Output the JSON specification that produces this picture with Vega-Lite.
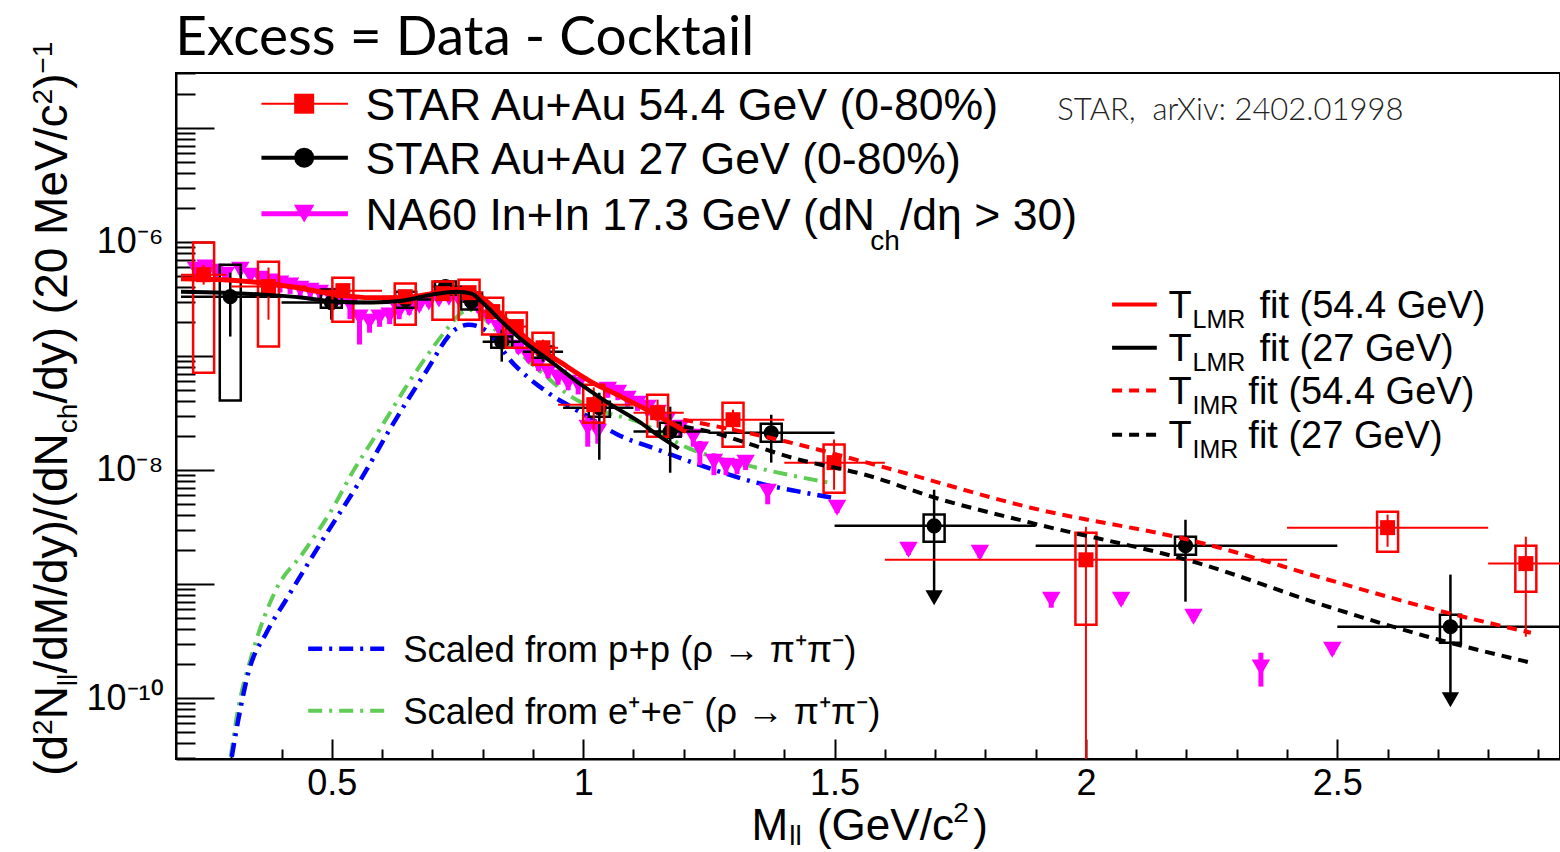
{
  "$schema": "https://vega.github.io/schema/vega-lite/v6.json",
  "width": 1384,
  "height": 686,
  "autosize": {"type": "none"},
  "padding": {"left": 176, "top": 73, "right": 0, "bottom": 93},
  "background": "white",
  "config": {
    "view": {"stroke": "black", "strokeWidth": 2},
    "font": "Liberation Sans",
    "text": {"font": "Liberation Sans", "color": "black"}
  },
  "datasets": {
    "star54": [
      {"m": 0.245, "y": 5.16e-7, "stat_lo": 4.22e-7, "stat_hi": 6.32e-7, "bin_lo": 0.2, "bin_hi": 0.29, "sys_lo": 7.14e-8, "sys_hi": 9.86e-7},
      {"m": 0.374, "y": 4.06e-7, "stat_lo": 2.08e-7, "stat_hi": 5.96e-7, "bin_lo": 0.3, "bin_hi": 0.45, "sys_lo": 1.21e-7, "sys_hi": 6.71e-7},
      {"m": 0.522, "y": 3.74e-7, "stat_lo": 3.31e-7, "stat_hi": 4.14e-7, "bin_lo": 0.45, "bin_hi": 0.6, "sys_lo": 2.0e-7, "sys_hi": 4.86e-7},
      {"m": 0.646, "y": 3.31e-7, "stat_lo": 2.94e-7, "stat_hi": 3.74e-7, "bin_lo": 0.6, "bin_hi": 0.7, "sys_lo": 1.88e-7, "sys_hi": 4.31e-7},
      {"m": 0.721, "y": 3.52e-7, "stat_lo": 3.12e-7, "stat_hi": 3.97e-7, "bin_lo": 0.7, "bin_hi": 0.74, "sys_lo": 2.08e-7, "sys_hi": 4.49e-7},
      {"m": 0.773, "y": 3.59e-7, "stat_lo": 3.17e-7, "stat_hi": 4.06e-7, "bin_lo": 0.74, "bin_hi": 0.8, "sys_lo": 2.08e-7, "sys_hi": 4.67e-7},
      {"m": 0.82, "y": 2.45e-7, "stat_lo": 2.08e-7, "stat_hi": 2.82e-7, "bin_lo": 0.8, "bin_hi": 0.84, "sys_lo": 1.54e-7, "sys_hi": 3.24e-7},
      {"m": 0.867, "y": 1.81e-7, "stat_lo": 1.54e-7, "stat_hi": 2.08e-7, "bin_lo": 0.84, "bin_hi": 0.89, "sys_lo": 1.18e-7, "sys_hi": 2.4e-7},
      {"m": 0.92, "y": 1.18e-7, "stat_lo": 9.86e-8, "stat_hi": 1.39e-7, "bin_lo": 0.89, "bin_hi": 0.95, "sys_lo": 8.39e-8, "sys_hi": 1.6e-7},
      {"m": 1.021, "y": 3.74e-8, "stat_lo": 2.26e-8, "stat_hi": 5.3e-8, "bin_lo": 0.95, "bin_hi": 1.1, "sys_lo": 2.6e-8, "sys_hi": 5.6e-8},
      {"m": 1.148, "y": 3.18e-8, "stat_lo": 2.35e-8, "stat_hi": 4.14e-8, "bin_lo": 1.1, "bin_hi": 1.2, "sys_lo": 1.96e-8, "sys_hi": 4.58e-8},
      {"m": 1.298, "y": 2.76e-8, "stat_lo": 2.17e-8, "stat_hi": 3.38e-8, "bin_lo": 1.2, "bin_hi": 1.4, "sys_lo": 1.6e-8, "sys_hi": 3.89e-8},
      {"m": 1.499, "y": 1.16e-8, "stat_lo": 6.71e-9, "stat_hi": 1.85e-8, "bin_lo": 1.4, "bin_hi": 1.6, "sys_lo": 6.32e-9, "sys_hi": 1.67e-8},
      {"m": 2.0, "y": 1.63e-9, "stat_lo": 1e-11, "stat_hi": 3.18e-9, "bin_lo": 1.6, "bin_hi": 2.4, "sys_lo": 4.4e-10, "sys_hi": 2.82e-9},
      {"m": 2.6, "y": 3.12e-9, "stat_lo": 2.12e-9, "stat_hi": 4.06e-9, "bin_lo": 2.4, "bin_hi": 2.8, "sys_lo": 1.92e-9, "sys_hi": 4.31e-9},
      {"m": 2.875, "y": 1.51e-9, "stat_lo": 3.45e-10, "stat_hi": 2.6e-9, "bin_lo": 2.8, "bin_hi": 3.0, "sys_lo": 8.55e-10, "sys_hi": 2.17e-9}
    ],
    "star27": [
      {"m": 0.298, "y": 3.31e-7, "stat_lo": 1.48e-7, "stat_hi": 5.38e-7, "bin_lo": 0.2, "bin_hi": 0.4, "sys_lo": 4.06e-8, "sys_hi": 6.32e-7, "limit": null},
      {"m": 0.499, "y": 2.94e-7, "stat_lo": 2.08e-7, "stat_hi": 3.66e-7, "bin_lo": 0.4, "bin_hi": 0.6, "sys_lo": 2.65e-7, "sys_hi": 3.82e-7, "limit": null},
      {"m": 0.647, "y": 3.12e-7, "stat_lo": 2.82e-7, "stat_hi": 3.38e-7, "bin_lo": 0.6, "bin_hi": 0.7, "sys_lo": 2.65e-7, "sys_hi": 3.66e-7, "limit": null},
      {"m": 0.726, "y": 4.06e-7, "stat_lo": 3.74e-7, "stat_hi": 4.31e-7, "bin_lo": 0.7, "bin_hi": 0.76, "sys_lo": 3.45e-7, "sys_hi": 4.49e-7, "limit": null},
      {"m": 0.778, "y": 2.99e-7, "stat_lo": 2.7e-7, "stat_hi": 3.31e-7, "bin_lo": 0.76, "bin_hi": 0.8, "sys_lo": 2.55e-7, "sys_hi": 3.59e-7, "limit": null},
      {"m": 0.838, "y": 1.33e-7, "stat_lo": 8.91e-8, "stat_hi": 1.7e-7, "bin_lo": 0.8, "bin_hi": 0.875, "sys_lo": 1.18e-7, "sys_hi": 1.48e-7, "limit": null},
      {"m": 0.92, "y": 1.09e-7, "stat_lo": 8.91e-8, "stat_hi": 1.31e-7, "bin_lo": 0.88, "bin_hi": 0.96, "sys_lo": 9.66e-8, "sys_hi": 1.21e-7, "limit": null},
      {"m": 1.032, "y": 3.52e-8, "stat_lo": 1.23e-8, "stat_hi": 4.76e-8, "bin_lo": 0.96, "bin_hi": 1.1, "sys_lo": 2.93e-8, "sys_hi": 3.97e-8, "limit": null},
      {"m": 1.173, "y": 2.17e-8, "stat_lo": 9.46e-9, "stat_hi": 3.59e-8, "bin_lo": 1.1, "bin_hi": 1.25, "sys_lo": 1.96e-8, "sys_hi": 2.6e-8, "limit": null},
      {"m": 1.374, "y": 2.12e-8, "stat_lo": 1.16e-8, "stat_hi": 3.05e-8, "bin_lo": 1.25, "bin_hi": 1.5, "sys_lo": 1.77e-8, "sys_hi": 2.55e-8, "limit": null},
      {"m": 1.698, "y": 3.24e-9, "stat_lo": 7.57e-10, "stat_hi": 6.71e-9, "bin_lo": 1.5, "bin_hi": 1.9, "sys_lo": 2.35e-9, "sys_hi": 4.06e-9, "limit": 7.57e-10},
      {"m": 2.198, "y": 2.17e-9, "stat_lo": 7.0e-10, "stat_hi": 3.66e-9, "bin_lo": 1.9, "bin_hi": 2.5, "sys_lo": 1.81e-9, "sys_hi": 2.6e-9, "limit": null},
      {"m": 2.725, "y": 4.22e-10, "stat_lo": 9.66e-11, "stat_hi": 1.21e-9, "bin_lo": 2.5, "bin_hi": 3.0, "sys_lo": 3.05e-10, "sys_hi": 5.38e-10, "limit": 9.66e-11}
    ],
    "na60": [
      {"m": 0.230, "y": 5.71e-7, "lo": 5.2e-7, "hi": 6.6e-7},
      {"m": 0.249, "y": 5.96e-7, "lo": 5.4e-7, "hi": 6.6e-7},
      {"m": 0.269, "y": 5.48e-7, "lo": 4.9e-7, "hi": 6.0e-7},
      {"m": 0.289, "y": 5.16e-7, "lo": 4.7e-7, "hi": 5.6e-7},
      {"m": 0.318, "y": 5.71e-7, "lo": 5.2e-7, "hi": 6.2e-7},
      {"m": 0.338, "y": 5.06e-7, "lo": 4.6e-7, "hi": 5.5e-7},
      {"m": 0.358, "y": 4.76e-7, "lo": 4.3e-7, "hi": 5.2e-7},
      {"m": 0.378, "y": 4.49e-7, "lo": 4.0e-7, "hi": 4.9e-7},
      {"m": 0.397, "y": 4.31e-7, "lo": 3.6e-7, "hi": 4.7e-7},
      {"m": 0.417, "y": 4.14e-7, "lo": 3.5e-7, "hi": 4.5e-7},
      {"m": 0.437, "y": 3.89e-7, "lo": 3.3e-7, "hi": 4.2e-7},
      {"m": 0.457, "y": 3.74e-7, "lo": 3.2e-7, "hi": 4.0e-7},
      {"m": 0.476, "y": 3.59e-7, "lo": 3.1e-7, "hi": 3.9e-7},
      {"m": 0.496, "y": 3.38e-7, "lo": 2.9e-7, "hi": 3.6e-7},
      {"m": 0.516, "y": 3.24e-7, "lo": 2.8e-7, "hi": 3.5e-7},
      {"m": 0.536, "y": 2.82e-7, "lo": 2.1e-7, "hi": 3.1e-7},
      {"m": 0.555, "y": 2.17e-7, "lo": 1.26e-7, "hi": 2.5e-7},
      {"m": 0.575, "y": 2.0e-7, "lo": 1.6e-7, "hi": 2.3e-7},
      {"m": 0.595, "y": 2.17e-7, "lo": 1.8e-7, "hi": 2.4e-7},
      {"m": 0.615, "y": 2.26e-7, "lo": 1.9e-7, "hi": 2.5e-7},
      {"m": 0.634, "y": 2.45e-7, "lo": 2.1e-7, "hi": 2.7e-7},
      {"m": 0.654, "y": 2.6e-7, "lo": 2.3e-7, "hi": 2.8e-7},
      {"m": 0.674, "y": 2.76e-7, "lo": 2.5e-7, "hi": 3.0e-7},
      {"m": 0.693, "y": 2.94e-7, "lo": 2.7e-7, "hi": 3.2e-7},
      {"m": 0.713, "y": 3.12e-7, "lo": 2.9e-7, "hi": 3.4e-7},
      {"m": 0.733, "y": 3.24e-7, "lo": 3.0e-7, "hi": 3.5e-7},
      {"m": 0.753, "y": 3.12e-7, "lo": 2.9e-7, "hi": 3.4e-7},
      {"m": 0.772, "y": 2.94e-7, "lo": 2.7e-7, "hi": 3.2e-7},
      {"m": 0.792, "y": 2.65e-7, "lo": 2.4e-7, "hi": 2.9e-7},
      {"m": 0.812, "y": 2.17e-7, "lo": 1.95e-7, "hi": 2.4e-7},
      {"m": 0.832, "y": 1.77e-7, "lo": 1.6e-7, "hi": 1.95e-7},
      {"m": 0.851, "y": 1.45e-7, "lo": 1.3e-7, "hi": 1.6e-7},
      {"m": 0.871, "y": 1.18e-7, "lo": 1.05e-7, "hi": 1.3e-7},
      {"m": 0.891, "y": 9.86e-8, "lo": 8.8e-8, "hi": 1.09e-7},
      {"m": 0.911, "y": 8.39e-8, "lo": 7.4e-8, "hi": 9.3e-8},
      {"m": 0.930, "y": 7.28e-8, "lo": 6.4e-8, "hi": 8.1e-8},
      {"m": 0.950, "y": 6.46e-8, "lo": 5.6e-8, "hi": 7.2e-8},
      {"m": 0.970, "y": 5.83e-8, "lo": 5.0e-8, "hi": 6.6e-8},
      {"m": 0.990, "y": 5.6e-8, "lo": 4.6e-8, "hi": 6.4e-8},
      {"m": 1.009, "y": 2.35e-8, "lo": 1.6e-8, "hi": 3.0e-8},
      {"m": 1.029, "y": 2.17e-8, "lo": 1.7e-8, "hi": 2.7e-8},
      {"m": 1.049, "y": 5.06e-8, "lo": 4.3e-8, "hi": 5.8e-8},
      {"m": 1.069, "y": 4.76e-8, "lo": 4.1e-8, "hi": 5.4e-8},
      {"m": 1.088, "y": 4.22e-8, "lo": 3.6e-8, "hi": 4.8e-8},
      {"m": 1.108, "y": 3.82e-8, "lo": 3.3e-8, "hi": 4.3e-8},
      {"m": 1.128, "y": 3.52e-8, "lo": 3.0e-8, "hi": 4.0e-8},
      {"m": 1.148, "y": 3.18e-8, "lo": 2.7e-8, "hi": 3.6e-8},
      {"m": 1.167, "y": 2.76e-8, "lo": 2.3e-8, "hi": 3.2e-8},
      {"m": 1.193, "y": 2.35e-8, "lo": 1.95e-8, "hi": 2.7e-8},
      {"m": 1.219, "y": 1.96e-8, "lo": 1.6e-8, "hi": 2.3e-8},
      {"m": 1.232, "y": 1.51e-8, "lo": 1.1e-8, "hi": 1.8e-8},
      {"m": 1.260, "y": 1.18e-8, "lo": 9.0e-9, "hi": 1.4e-8},
      {"m": 1.284, "y": 1.09e-8, "lo": 9.0e-9, "hi": 1.25e-8},
      {"m": 1.306, "y": 1.07e-8, "lo": 9.2e-9, "hi": 1.2e-8},
      {"m": 1.323, "y": 1.16e-8, "lo": 1.0e-8, "hi": 1.3e-8},
      {"m": 1.367, "y": 6.46e-9, "lo": 5.0e-9, "hi": 7.6e-9},
      {"m": 1.505, "y": 4.67e-9, "lo": 4.2e-9, "hi": 5.1e-9},
      {"m": 1.647, "y": 2.0e-9, "lo": 1.8e-9, "hi": 2.2e-9},
      {"m": 1.789, "y": 1.88e-9, "lo": 1.7e-9, "hi": 2.05e-9},
      {"m": 1.931, "y": 7.28e-10, "lo": 6.2e-10, "hi": 8.5e-10},
      {"m": 2.070, "y": 7.28e-10, "lo": 6.6e-10, "hi": 8.0e-10},
      {"m": 2.214, "y": 5.16e-10, "lo": 4.7e-10, "hi": 5.6e-10},
      {"m": 2.348, "y": 1.85e-10, "lo": 1.26e-10, "hi": 2.5e-10},
      {"m": 2.490, "y": 2.65e-10, "lo": 2.4e-10, "hi": 2.9e-10}
    ],
    "lmr54": [
      {"m": 0.2, "y": 4.76e-7}, {"m": 0.285, "y": 4.67e-7}, {"m": 0.374, "y": 4.31e-7}, {"m": 0.443, "y": 3.89e-7},
      {"m": 0.508, "y": 3.45e-7}, {"m": 0.581, "y": 3.24e-7}, {"m": 0.64, "y": 3.24e-7}, {"m": 0.699, "y": 3.52e-7},
      {"m": 0.739, "y": 3.82e-7}, {"m": 0.769, "y": 3.82e-7}, {"m": 0.788, "y": 3.52e-7}, {"m": 0.818, "y": 2.76e-7},
      {"m": 0.857, "y": 1.88e-7}, {"m": 0.897, "y": 1.31e-7}, {"m": 0.956, "y": 8.73e-8}, {"m": 1.015, "y": 5.96e-8},
      {"m": 1.075, "y": 4.4e-8}, {"m": 1.134, "y": 3.24e-8}, {"m": 1.205, "y": 2.17e-8}
    ],
    "lmr27": [
      {"m": 0.2, "y": 3.66e-7}, {"m": 0.285, "y": 3.59e-7}, {"m": 0.364, "y": 3.45e-7}, {"m": 0.443, "y": 3.24e-7},
      {"m": 0.508, "y": 2.99e-7}, {"m": 0.581, "y": 2.94e-7}, {"m": 0.64, "y": 3.05e-7}, {"m": 0.699, "y": 3.45e-7},
      {"m": 0.749, "y": 3.66e-7}, {"m": 0.778, "y": 3.52e-7}, {"m": 0.798, "y": 2.99e-7}, {"m": 0.838, "y": 2.0e-7},
      {"m": 0.877, "y": 1.39e-7}, {"m": 0.936, "y": 8.91e-8}, {"m": 0.996, "y": 5.6e-8}, {"m": 1.055, "y": 3.74e-8},
      {"m": 1.114, "y": 2.6e-8}, {"m": 1.15, "y": 2.0e-8}, {"m": 1.19, "y": 1.54e-8}
    ],
    "imr54": [
      {"m": 1.199, "y": 2.76e-8}, {"m": 1.396, "y": 1.81e-8}, {"m": 1.594, "y": 1.07e-8}, {"m": 1.89, "y": 4.67e-9},
      {"m": 2.22, "y": 2.35e-9}, {"m": 2.482, "y": 1.09e-9}, {"m": 2.68, "y": 6.19e-10}, {"m": 2.885, "y": 3.74e-10}
    ],
    "imr27": [
      {"m": 1.2, "y": 2.4e-8}, {"m": 1.232, "y": 2.26e-8}, {"m": 1.43, "y": 1.23e-8}, {"m": 1.568, "y": 8.91e-9},
      {"m": 1.693, "y": 5.83e-9}, {"m": 1.89, "y": 3.45e-9}, {"m": 2.22, "y": 1.54e-9}, {"m": 2.482, "y": 6.32e-10},
      {"m": 2.68, "y": 3.45e-10}, {"m": 2.885, "y": 2.04e-10}
    ],
    "rho_pp": [
      {"m": 0.301, "y": 3.05e-11}, {"m": 0.314, "y": 6.46e-11}, {"m": 0.334, "y": 1.67e-10}, {"m": 0.37, "y": 3.74e-10},
      {"m": 0.409, "y": 7.28e-10}, {"m": 0.482, "y": 2.45e-9}, {"m": 0.561, "y": 8.73e-9}, {"m": 0.615, "y": 2.26e-8},
      {"m": 0.686, "y": 7.14e-8}, {"m": 0.745, "y": 1.7e-7}, {"m": 0.772, "y": 1.88e-7}, {"m": 0.804, "y": 1.7e-7},
      {"m": 0.863, "y": 8.39e-8}, {"m": 0.93, "y": 4.76e-8}, {"m": 0.996, "y": 3.18e-8}, {"m": 1.069, "y": 2.04e-8},
      {"m": 1.148, "y": 1.51e-8}, {"m": 1.258, "y": 1.01e-8}, {"m": 1.345, "y": 7.74e-9}, {"m": 1.43, "y": 6.46e-9},
      {"m": 1.495, "y": 5.71e-9}
    ],
    "rho_ee": [
      {"m": 0.299, "y": 3.05e-11}, {"m": 0.31, "y": 6.46e-11}, {"m": 0.344, "y": 2.65e-10}, {"m": 0.389, "y": 8.91e-10},
      {"m": 0.443, "y": 1.88e-9}, {"m": 0.508, "y": 5.16e-9}, {"m": 0.536, "y": 8.73e-9}, {"m": 0.595, "y": 2.26e-8},
      {"m": 0.666, "y": 7.14e-8}, {"m": 0.733, "y": 1.81e-7}, {"m": 0.753, "y": 2.3e-7}, {"m": 0.772, "y": 2.55e-7},
      {"m": 0.798, "y": 2.21e-7}, {"m": 0.844, "y": 1.39e-7}, {"m": 0.911, "y": 7.59e-8}, {"m": 0.976, "y": 4.4e-8},
      {"m": 1.029, "y": 3.38e-8}, {"m": 1.114, "y": 2.6e-8}, {"m": 1.207, "y": 1.57e-8}, {"m": 1.337, "y": 1.07e-8},
      {"m": 1.489, "y": 7.74e-9}
    ]
  },
  "layer": [
    {
      "data": {"name": "star54"},
      "mark": {"type": "point", "opacity": 0},
      "encoding": {
        "x": {"field": "m", "type": "quantitative",
          "scale": {"domain": [0.2, 2.933], "nice": false, "zero": false},
          "axis": {"orient": "bottom", "values": [0.5, 1, 1.5, 2, 2.5], "labelExpr": "datum.value + ''",
            "tickSize": -20, "tickWidth": 2, "tickColor": "black", "domain": true, "domainColor": "black", "domainWidth": 2,
            "labelFontSize": 36, "labelFont": "Liberation Sans", "labelColor": "black", "labelPadding": 27,
            "labelOverlap": false, "labelFlush": false, "grid": false, "title": null}},
        "y": {"field": "y", "type": "quantitative",
          "scale": {"type": "log", "domain": [2.92e-11, 3.03e-5], "nice": false},
          "axis": {"orient": "left", "values": [1e-10, 1e-9, 1e-8, 1e-7, 1e-6, 1e-5],
            "labelExpr": "round(log(datum.value)/LN10) == -6 ? '10⁻⁶' : round(log(datum.value)/LN10) == -8 ? '10⁻⁸' : round(log(datum.value)/LN10) == -10 ? '10⁻¹⁰' : ''",
            "tickSize": -38, "tickWidth": 2, "tickColor": "black", "domain": true, "domainColor": "black", "domainWidth": 2,
            "labelFontSize": 36, "labelFont": "Liberation Sans", "labelColor": "black", "labelPadding": 51,
            "labelOverlap": false, "labelFlush": false, "grid": false, "title": null}}
      }
    },
    {
      "data": {"name": "star54"},
      "mark": {"type": "point", "opacity": 0},
      "encoding": {
        "x": {"field": "m", "type": "quantitative",
          "axis": {"orient": "bottom", "values": [0.3, 0.4, 0.6, 0.7, 0.8, 0.9, 1.1, 1.2, 1.3, 1.4, 1.6, 1.7, 1.8, 1.9, 2.1, 2.2, 2.3, 2.4, 2.6, 2.7, 2.8, 2.9],
            "labels": false, "domain": false, "tickSize": -10, "tickWidth": 2, "tickColor": "black", "grid": false, "title": null}},
        "y": {"field": "y", "type": "quantitative",
          "axis": {"orient": "left",
            "values": [3e-11, 4e-11, 5e-11, 6e-11, 7e-11, 8e-11, 9e-11, 2e-10, 3e-10, 4e-10, 5e-10, 6e-10, 7e-10, 8e-10, 9e-10, 2e-9, 3e-9, 4e-9, 5e-9, 6e-9, 7e-9, 8e-9, 9e-9, 2e-8, 3e-8, 4e-8, 5e-8, 6e-8, 7e-8, 8e-8, 9e-8, 2e-7, 3e-7, 4e-7, 5e-7, 6e-7, 7e-7, 8e-7, 9e-7, 2e-6, 3e-6, 4e-6, 5e-6, 6e-6, 7e-6, 8e-6, 9e-6, 2e-5, 3e-5],
            "labels": false, "domain": false, "tickSize": -19, "tickWidth": 2, "tickColor": "black", "grid": false, "title": null}}
      }
    },
    {
      "data": {"name": "rho_ee"},
      "mark": {"type": "line", "color": "#5fcc55", "strokeWidth": 4, "strokeDash": [14, 7, 3, 7], "interpolate": "monotone", "clip": true},
      "encoding": {"x": {"field": "m", "type": "quantitative", "axis": null}, "y": {"field": "y", "type": "quantitative", "axis": null}}
    },
    {
      "data": {"name": "rho_pp"},
      "mark": {"type": "line", "color": "#0000ff", "strokeWidth": 4.5, "strokeDash": [14, 7, 3, 7], "interpolate": "monotone", "clip": true},
      "encoding": {"x": {"field": "m", "type": "quantitative", "axis": null}, "y": {"field": "y", "type": "quantitative", "axis": null}}
    },
    {
      "data": {"name": "na60"},
      "mark": {"type": "rule", "color": "#ff00ff", "strokeWidth": 5, "clip": true},
      "encoding": {"x": {"field": "m", "type": "quantitative", "axis": null}, "y": {"field": "lo", "type": "quantitative", "axis": null}, "y2": {"field": "hi"}}
    },
    {
      "data": {"name": "na60"},
      "mark": {"type": "point", "shape": "triangle-down", "filled": true, "color": "#ff00ff", "size": 340, "opacity": 1, "clip": true},
      "encoding": {"x": {"field": "m", "type": "quantitative", "axis": null}, "y": {"field": "y", "type": "quantitative", "axis": null}}
    },
    {
      "data": {"name": "star27"},
      "mark": {"type": "bar", "width": 21, "fill": "transparent", "stroke": "black", "strokeWidth": 2.5, "clip": true},
      "encoding": {"x": {"field": "m", "type": "quantitative", "axis": null}, "y": {"field": "sys_lo", "type": "quantitative", "axis": null}, "y2": {"field": "sys_hi"}}
    },
    {
      "data": {"name": "star27"},
      "mark": {"type": "rule", "color": "black", "strokeWidth": 2.5, "clip": true},
      "encoding": {"x": {"field": "bin_lo", "type": "quantitative", "axis": null}, "x2": {"field": "bin_hi"}, "y": {"field": "y", "type": "quantitative", "axis": null}}
    },
    {
      "data": {"name": "star27"},
      "mark": {"type": "rule", "color": "black", "strokeWidth": 2.5, "clip": true},
      "encoding": {"x": {"field": "m", "type": "quantitative", "axis": null}, "y": {"field": "stat_lo", "type": "quantitative", "axis": null}, "y2": {"field": "stat_hi"}}
    },
    {
      "data": {"name": "star27"},
      "transform": [{"filter": "datum.limit != null"}],
      "mark": {"type": "point", "shape": "triangle-down", "filled": true, "color": "black", "size": 300, "opacity": 1, "clip": true},
      "encoding": {"x": {"field": "m", "type": "quantitative", "axis": null}, "y": {"field": "limit", "type": "quantitative", "axis": null}}
    },
    {
      "data": {"name": "star27"},
      "mark": {"type": "point", "shape": "circle", "filled": true, "color": "black", "size": 230, "opacity": 1, "clip": true},
      "encoding": {"x": {"field": "m", "type": "quantitative", "axis": null}, "y": {"field": "y", "type": "quantitative", "axis": null}}
    },
    {
      "data": {"name": "star54"},
      "mark": {"type": "bar", "width": 21, "fill": "transparent", "stroke": "#ff0000", "strokeWidth": 2.5, "clip": true},
      "encoding": {"x": {"field": "m", "type": "quantitative", "axis": null}, "y": {"field": "sys_lo", "type": "quantitative", "axis": null}, "y2": {"field": "sys_hi"}}
    },
    {
      "data": {"name": "star54"},
      "mark": {"type": "rule", "color": "#ff0000", "strokeWidth": 2, "clip": true},
      "encoding": {"x": {"field": "bin_lo", "type": "quantitative", "axis": null}, "x2": {"field": "bin_hi"}, "y": {"field": "y", "type": "quantitative", "axis": null}}
    },
    {
      "data": {"name": "star54"},
      "mark": {"type": "rule", "color": "#ff0000", "strokeWidth": 2, "clip": true},
      "encoding": {"x": {"field": "m", "type": "quantitative", "axis": null}, "y": {"field": "stat_lo", "type": "quantitative", "axis": null}, "y2": {"field": "stat_hi"}}
    },
    {
      "data": {"name": "star54"},
      "mark": {"type": "point", "shape": "square", "filled": true, "color": "#ff0000", "size": 225, "opacity": 1, "clip": true},
      "encoding": {"x": {"field": "m", "type": "quantitative", "axis": null}, "y": {"field": "y", "type": "quantitative", "axis": null}}
    },
    {
      "data": {"name": "lmr54"},
      "mark": {"type": "line", "color": "#ff0000", "strokeWidth": 5, "interpolate": "monotone", "clip": true},
      "encoding": {"x": {"field": "m", "type": "quantitative", "axis": null}, "y": {"field": "y", "type": "quantitative", "axis": null}}
    },
    {
      "data": {"name": "lmr27"},
      "mark": {"type": "line", "color": "black", "strokeWidth": 4, "interpolate": "monotone", "clip": true},
      "encoding": {"x": {"field": "m", "type": "quantitative", "axis": null}, "y": {"field": "y", "type": "quantitative", "axis": null}}
    },
    {
      "data": {"name": "imr27"},
      "mark": {"type": "line", "color": "black", "strokeWidth": 4, "strokeDash": [10, 7], "interpolate": "monotone", "clip": true},
      "encoding": {"x": {"field": "m", "type": "quantitative", "axis": null}, "y": {"field": "y", "type": "quantitative", "axis": null}}
    },
    {
      "data": {"name": "imr54"},
      "mark": {"type": "line", "color": "#ff0000", "strokeWidth": 4, "strokeDash": [10, 7], "interpolate": "monotone", "clip": true},
      "encoding": {"x": {"field": "m", "type": "quantitative", "axis": null}, "y": {"field": "y", "type": "quantitative", "axis": null}}
    },

    {"data": {"values": [{"t": "Excess = Data - Cocktail"}]},
     "mark": {"type": "text", "font": "Lato", "fontSize": 55, "align": "left", "baseline": "alphabetic"},
     "encoding": {"text": {"field": "t"}, "x": {"datum": 0.1885, "axis": null}, "y": {"datum": 4.4e-5, "axis": null}}},
    {"data": {"values": [{"t": "STAR,\u00a0 arXiv: 2402.01998"}]},
     "mark": {"type": "text", "font": "Lato", "fontWeight": 300, "fontSize": 31, "align": "left", "baseline": "alphabetic", "color": "#222222"},
     "encoding": {"text": {"field": "t"}, "x": {"datum": 1.943, "axis": null}, "y": {"datum": 1.18e-5, "axis": null}}},

    {"data": {"values": [{"s": "STAR Au+Au 54.4 GeV"}]},
     "mark": {"type": "rule", "color": "#ff0000", "strokeWidth": 2},
     "encoding": {"x": {"datum": 0.36, "axis": null}, "x2": {"datum": 0.532}, "y": {"datum": 1.63e-5, "axis": null}}},
    {"data": {"values": [{"s": "STAR Au+Au 54.4 GeV"}]},
     "mark": {"type": "point", "shape": "square", "filled": true, "color": "#ff0000", "size": 400, "opacity": 1},
     "encoding": {"x": {"datum": 0.445, "axis": null}, "y": {"datum": 1.63e-5, "axis": null}}},
    {"data": {"values": [{"t": "STAR Au+Au 54.4 GeV (0-80%)"}]},
     "mark": {"type": "text", "fontSize": 44.6, "align": "left", "baseline": "alphabetic"},
     "encoding": {"text": {"field": "t"}, "x": {"datum": 0.567, "axis": null}, "y": {"datum": 1.18e-5, "axis": null}}},

    {"data": {"values": [{"s": "STAR Au+Au 27 GeV"}]},
     "mark": {"type": "rule", "color": "black", "strokeWidth": 4},
     "encoding": {"x": {"datum": 0.36, "axis": null}, "x2": {"datum": 0.532}, "y": {"datum": 5.48e-6, "axis": null}}},
    {"data": {"values": [{"s": "STAR Au+Au 27 GeV"}]},
     "mark": {"type": "point", "shape": "circle", "filled": true, "color": "black", "size": 400, "opacity": 1},
     "encoding": {"x": {"datum": 0.445, "axis": null}, "y": {"datum": 5.48e-6, "axis": null}}},
    {"data": {"values": [{"t": "STAR Au+Au 27 GeV (0-80%)"}]},
     "mark": {"type": "text", "fontSize": 44.6, "align": "left", "baseline": "alphabetic"},
     "encoding": {"text": {"field": "t"}, "x": {"datum": 0.567, "axis": null}, "y": {"datum": 3.97e-6, "axis": null}}},

    {"data": {"values": [{"s": "NA60 In+In 17.3 GeV"}]},
     "mark": {"type": "rule", "color": "#ff00ff", "strokeWidth": 5},
     "encoding": {"x": {"datum": 0.36, "axis": null}, "x2": {"datum": 0.532}, "y": {"datum": 1.77e-6, "axis": null}}},
    {"data": {"values": [{"s": "NA60 In+In 17.3 GeV"}]},
     "mark": {"type": "point", "shape": "triangle-down", "filled": true, "color": "#ff00ff", "size": 420, "opacity": 1},
     "encoding": {"x": {"datum": 0.445, "axis": null}, "y": {"datum": 1.77e-6, "axis": null}}},
    {"data": {"values": [{"t": "NA60 In+In 17.3 GeV (dN"}]},
     "mark": {"type": "text", "fontSize": 44.6, "align": "left", "baseline": "alphabetic"},
     "encoding": {"text": {"field": "t"}, "x": {"datum": 0.567, "axis": null}, "y": {"datum": 1.28e-6, "axis": null}}},
    {"data": {"values": [{"t": "ch"}]},
     "mark": {"type": "text", "fontSize": 28, "align": "left", "baseline": "alphabetic"},
     "encoding": {"text": {"field": "t"}, "x": {"datum": 1.571, "axis": null}, "y": {"datum": 8.56e-7, "axis": null}}},
    {"data": {"values": [{"t": "/dη > 30)"}]},
     "mark": {"type": "text", "fontSize": 44.6, "align": "left", "baseline": "alphabetic"},
     "encoding": {"text": {"field": "t"}, "x": {"datum": 1.63, "axis": null}, "y": {"datum": 1.28e-6, "axis": null}}},

    {"data": {"values": [{"s": "T_LMR 54.4"}]},
     "mark": {"type": "rule", "color": "#ff0000", "strokeWidth": 4},
     "encoding": {"x": {"datum": 2.052, "axis": null}, "x2": {"datum": 2.141}, "y": {"datum": 2.82e-7, "axis": null}}},
    {"data": {"values": [{"t": "T"}]},
     "mark": {"type": "text", "fontSize": 38, "align": "left", "baseline": "alphabetic"},
     "encoding": {"text": {"field": "t"}, "x": {"datum": 2.164, "axis": null}, "y": {"datum": 2.15e-7, "axis": null}}},
    {"data": {"values": [{"t": "LMR"}]},
     "mark": {"type": "text", "fontSize": 25, "align": "left", "baseline": "alphabetic"},
     "encoding": {"text": {"field": "t"}, "x": {"datum": 2.212, "axis": null}, "y": {"datum": 1.75e-7, "axis": null}}},
    {"data": {"values": [{"t": "fit (54.4 GeV)"}]},
     "mark": {"type": "text", "fontSize": 38, "align": "left", "baseline": "alphabetic"},
     "encoding": {"text": {"field": "t"}, "x": {"datum": 2.345, "axis": null}, "y": {"datum": 2.15e-7, "axis": null}}},

    {"data": {"values": [{"s": "T_LMR 27"}]},
     "mark": {"type": "rule", "color": "black", "strokeWidth": 4},
     "encoding": {"x": {"datum": 2.052, "axis": null}, "x2": {"datum": 2.141}, "y": {"datum": 1.18e-7, "axis": null}}},
    {"data": {"values": [{"t": "T"}]},
     "mark": {"type": "text", "fontSize": 38, "align": "left", "baseline": "alphabetic"},
     "encoding": {"text": {"field": "t"}, "x": {"datum": 2.164, "axis": null}, "y": {"datum": 8.99e-8, "axis": null}}},
    {"data": {"values": [{"t": "LMR"}]},
     "mark": {"type": "text", "fontSize": 25, "align": "left", "baseline": "alphabetic"},
     "encoding": {"text": {"field": "t"}, "x": {"datum": 2.212, "axis": null}, "y": {"datum": 7.36e-8, "axis": null}}},
    {"data": {"values": [{"t": "fit (27 GeV)"}]},
     "mark": {"type": "text", "fontSize": 38, "align": "left", "baseline": "alphabetic"},
     "encoding": {"text": {"field": "t"}, "x": {"datum": 2.345, "axis": null}, "y": {"datum": 8.99e-8, "axis": null}}},

    {"data": {"values": [{"s": "T_IMR 54.4"}]},
     "mark": {"type": "rule", "color": "#ff0000", "strokeWidth": 4, "strokeDash": [10, 7]},
     "encoding": {"x": {"datum": 2.052, "axis": null}, "x2": {"datum": 2.141}, "y": {"datum": 4.97e-8, "axis": null}}},
    {"data": {"values": [{"t": "T"}]},
     "mark": {"type": "text", "fontSize": 38, "align": "left", "baseline": "alphabetic"},
     "encoding": {"text": {"field": "t"}, "x": {"datum": 2.164, "axis": null}, "y": {"datum": 3.78e-8, "axis": null}}},
    {"data": {"values": [{"t": "IMR"}]},
     "mark": {"type": "text", "fontSize": 25, "align": "left", "baseline": "alphabetic"},
     "encoding": {"text": {"field": "t"}, "x": {"datum": 2.212, "axis": null}, "y": {"datum": 3.08e-8, "axis": null}}},
    {"data": {"values": [{"t": "fit (54.4 GeV)"}]},
     "mark": {"type": "text", "fontSize": 38, "align": "left", "baseline": "alphabetic"},
     "encoding": {"text": {"field": "t"}, "x": {"datum": 2.323, "axis": null}, "y": {"datum": 3.78e-8, "axis": null}}},

    {"data": {"values": [{"s": "T_IMR 27"}]},
     "mark": {"type": "rule", "color": "black", "strokeWidth": 4, "strokeDash": [10, 7]},
     "encoding": {"x": {"datum": 2.052, "axis": null}, "x2": {"datum": 2.141}, "y": {"datum": 2.04e-8, "axis": null}}},
    {"data": {"values": [{"t": "T"}]},
     "mark": {"type": "text", "fontSize": 38, "align": "left", "baseline": "alphabetic"},
     "encoding": {"text": {"field": "t"}, "x": {"datum": 2.164, "axis": null}, "y": {"datum": 1.55e-8, "axis": null}}},
    {"data": {"values": [{"t": "IMR"}]},
     "mark": {"type": "text", "fontSize": 25, "align": "left", "baseline": "alphabetic"},
     "encoding": {"text": {"field": "t"}, "x": {"datum": 2.212, "axis": null}, "y": {"datum": 1.27e-8, "axis": null}}},
    {"data": {"values": [{"t": "fit (27 GeV)"}]},
     "mark": {"type": "text", "fontSize": 38, "align": "left", "baseline": "alphabetic"},
     "encoding": {"text": {"field": "t"}, "x": {"datum": 2.323, "axis": null}, "y": {"datum": 1.55e-8, "axis": null}}},

    {"data": {"values": [{"s": "rho p+p"}]},
     "mark": {"type": "rule", "color": "#0000ff", "strokeWidth": 4.5, "strokeDash": [14, 7, 3, 7]},
     "encoding": {"x": {"datum": 0.453, "axis": null}, "x2": {"datum": 0.611}, "y": {"datum": 2.7e-10, "axis": null}}},
    {"data": {"values": [{"t": "Scaled from p+p (ρ → π⁺π⁻)"}]},
     "mark": {"type": "text", "fontSize": 36.5, "align": "left", "baseline": "alphabetic"},
     "encoding": {"text": {"field": "t"}, "x": {"datum": 0.642, "axis": null}, "y": {"datum": 2.06e-10, "axis": null}}},
    {"data": {"values": [{"s": "rho e+e-"}]},
     "mark": {"type": "rule", "color": "#5fcc55", "strokeWidth": 4, "strokeDash": [14, 7, 3, 7]},
     "encoding": {"x": {"datum": 0.453, "axis": null}, "x2": {"datum": 0.611}, "y": {"datum": 7.74e-11, "axis": null}}},
    {"data": {"values": [{"t": "Scaled from e⁺+e⁻ (ρ → π⁺π⁻)"}]},
     "mark": {"type": "text", "fontSize": 36.5, "align": "left", "baseline": "alphabetic"},
     "encoding": {"text": {"field": "t"}, "x": {"datum": 0.642, "axis": null}, "y": {"datum": 5.89e-11, "axis": null}}},

    {"data": {"values": [{"t": "M"}]},
     "mark": {"type": "text", "fontSize": 44, "align": "left", "baseline": "alphabetic"},
     "encoding": {"text": {"field": "t"}, "x": {"datum": 1.335, "axis": null}, "y": {"datum": 5.73e-12, "axis": null}}},
    {"data": {"values": [{"t": "ll"}]},
     "mark": {"type": "text", "fontSize": 28, "align": "left", "baseline": "alphabetic"},
     "encoding": {"text": {"field": "t"}, "x": {"datum": 1.41, "axis": null}, "y": {"datum": 5.19e-12, "axis": null}}},
    {"data": {"values": [{"t": "(GeV/c"}]},
     "mark": {"type": "text", "fontSize": 44, "align": "left", "baseline": "alphabetic"},
     "encoding": {"text": {"field": "t"}, "x": {"datum": 1.465, "axis": null}, "y": {"datum": 5.73e-12, "axis": null}}},
    {"data": {"values": [{"t": "2"}]},
     "mark": {"type": "text", "fontSize": 28, "align": "left", "baseline": "alphabetic"},
     "encoding": {"text": {"field": "t"}, "x": {"datum": 1.736, "axis": null}, "y": {"datum": 8.22e-12, "axis": null}}},
    {"data": {"values": [{"t": ")"}]},
     "mark": {"type": "text", "fontSize": 44, "align": "left", "baseline": "alphabetic"},
     "encoding": {"text": {"field": "t"}, "x": {"datum": 1.776, "axis": null}, "y": {"datum": 5.73e-12, "axis": null}}},

    {"data": {"values": [{"t": "(d"}]},
     "mark": {"type": "text", "fontSize": 46, "angle": 270, "align": "left", "baseline": "alphabetic"},
     "encoding": {"text": {"field": "t"}, "x": {"datum": -0.027, "axis": null}, "y": {"datum": 2.08e-11, "axis": null}}},
    {"data": {"values": [{"t": "2"}]},
     "mark": {"type": "text", "fontSize": 28, "angle": 270, "align": "left", "baseline": "alphabetic"},
     "encoding": {"text": {"field": "t"}, "x": {"datum": -0.0568, "axis": null}, "y": {"datum": 4.75e-11, "axis": null}}},
    {"data": {"values": [{"t": "N"}]},
     "mark": {"type": "text", "fontSize": 46, "angle": 270, "align": "left", "baseline": "alphabetic"},
     "encoding": {"text": {"field": "t"}, "x": {"datum": -0.027, "axis": null}, "y": {"datum": 6.52e-11, "axis": null}}},
    {"data": {"values": [{"t": "ll"}]},
     "mark": {"type": "text", "fontSize": 28, "angle": 270, "align": "left", "baseline": "alphabetic"},
     "encoding": {"text": {"field": "t"}, "x": {"datum": -0.0074, "axis": null}, "y": {"datum": 1.27e-10, "axis": null}}},
    {"data": {"values": [{"t": "/dM/dy)/(dN"}]},
     "mark": {"type": "text", "fontSize": 46, "angle": 270, "align": "left", "baseline": "alphabetic"},
     "encoding": {"text": {"field": "t"}, "x": {"datum": -0.027, "axis": null}, "y": {"datum": 1.64e-10, "axis": null}}},
    {"data": {"values": [{"t": "ch"}]},
     "mark": {"type": "text", "fontSize": 28, "angle": 270, "align": "left", "baseline": "alphabetic"},
     "encoding": {"text": {"field": "t"}, "x": {"datum": -0.0074, "axis": null}, "y": {"datum": 2.1e-8, "axis": null}}},
    {"data": {"values": [{"t": "/dy) (20 MeV/c"}]},
     "mark": {"type": "text", "fontSize": 46, "angle": 270, "align": "left", "baseline": "alphabetic"},
     "encoding": {"text": {"field": "t"}, "x": {"datum": -0.027, "axis": null}, "y": {"datum": 3.82e-8, "axis": null}}},
    {"data": {"values": [{"t": "2"}]},
     "mark": {"type": "text", "fontSize": 28, "angle": 270, "align": "left", "baseline": "alphabetic"},
     "encoding": {"text": {"field": "t"}, "x": {"datum": -0.0568, "axis": null}, "y": {"datum": 1.6e-5, "axis": null}}},
    {"data": {"values": [{"t": ")"}]},
     "mark": {"type": "text", "fontSize": 46, "angle": 270, "align": "left", "baseline": "alphabetic"},
     "encoding": {"text": {"field": "t"}, "x": {"datum": -0.027, "axis": null}, "y": {"datum": 2.2e-5, "axis": null}}},
    {"data": {"values": [{"t": "−1"}]},
     "mark": {"type": "text", "fontSize": 28, "angle": 270, "align": "left", "baseline": "alphabetic"},
     "encoding": {"text": {"field": "t"}, "x": {"datum": -0.0568, "axis": null}, "y": {"datum": 2.99e-5, "axis": null}}}
  ],
  "resolve": {"axis": {"x": "independent", "y": "independent"}}
}
